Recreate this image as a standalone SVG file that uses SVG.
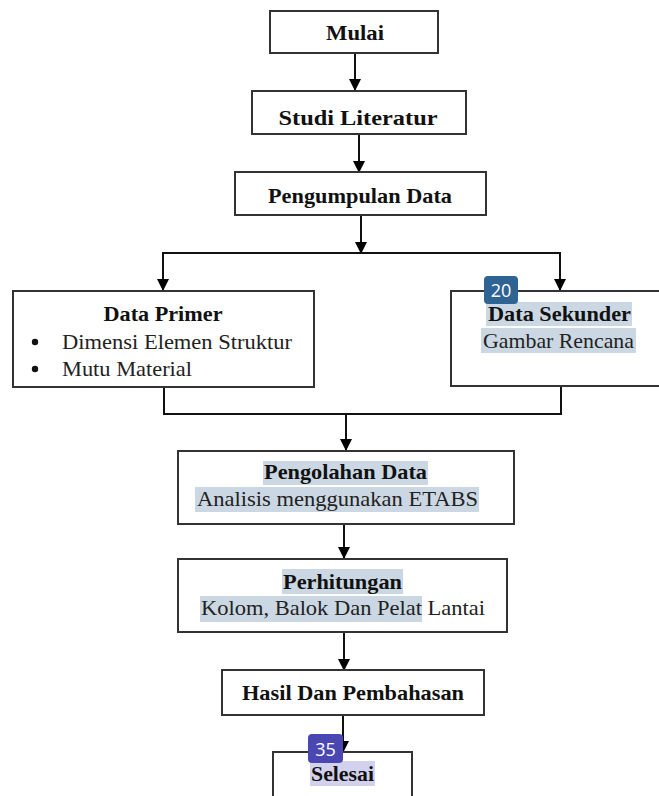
<svg xmlns="http://www.w3.org/2000/svg" width="659" height="796" viewBox="0 0 659 796">
<defs>
<marker id="ah" markerWidth="12" markerHeight="12" viewBox="0 0 12 12" refX="11" refY="6" orient="auto" markerUnits="userSpaceOnUse">
<path d="M0,0 L12,6 L0,12 Z" fill="#000"/>
</marker>
<style>
.box{fill:#fff;stroke:#333;stroke-width:2}
.con{fill:none;stroke:#111;stroke-width:2}
.b{font-family:"Liberation Serif","Times New Roman",serif;font-weight:bold;font-size:21px;fill:#111;text-anchor:middle}
.r{font-family:"Liberation Serif","Times New Roman",serif;font-size:21px;fill:#222}
.hl{fill:#cbd8e3}
.hl2{fill:#d3d2ee}
.badge{font-family:"Open Sans","Noto Sans",sans-serif;font-size:18px;fill:#fff;text-anchor:middle}
</style>
</defs>
<rect width="659" height="796" fill="#fff"/>

<g id="connectors">
<line class="con" x1="355" y1="53" x2="355" y2="90" marker-end="url(#ah)"/>
<line class="con" x1="359" y1="134" x2="359" y2="172" marker-end="url(#ah)"/>
<line class="con" x1="361" y1="215" x2="361" y2="253" marker-end="url(#ah)"/>
<polyline class="con" points="163,290 163,253 560,253 560,290"/>
<line class="con" x1="163" y1="270" x2="163" y2="290" marker-end="url(#ah)"/>
<line class="con" x1="560" y1="270" x2="560" y2="290" marker-end="url(#ah)"/>
<polyline class="con" points="164,387 164,414 561,414 561,386"/>
<line class="con" x1="346" y1="414" x2="346" y2="450" marker-end="url(#ah)"/>
<line class="con" x1="344" y1="524" x2="344" y2="558" marker-end="url(#ah)"/>
<line class="con" x1="344" y1="632" x2="344" y2="670" marker-end="url(#ah)"/>
<line class="con" x1="343" y1="715" x2="343" y2="752" marker-end="url(#ah)"/>
</g>

<g id="mulai">
<rect class="box" x="270" y="11" width="168" height="42"/>
<text class="b" x="355" y="40" font-size="23" textLength="58" lengthAdjust="spacingAndGlyphs">Mulai</text>
</g>

<g id="studi">
<rect class="box" x="252" y="91" width="214" height="43"/>
<text class="b" x="358" y="125" font-size="24" textLength="159" lengthAdjust="spacingAndGlyphs">Studi Literatur</text>
</g>

<g id="pengumpulan">
<rect class="box" x="235" y="172" width="251" height="43"/>
<text class="b" x="360" y="203" font-size="22" textLength="184" lengthAdjust="spacingAndGlyphs">Pengumpulan Data</text>
</g>

<g id="primer">
<rect class="box" x="13" y="291" width="301" height="96"/>
<text class="b" x="163" y="321" textLength="119" lengthAdjust="spacingAndGlyphs">Data Primer</text>
<circle cx="35" cy="342" r="3.2" fill="#111"/>
<text class="r" x="62" y="349" textLength="230" lengthAdjust="spacingAndGlyphs">Dimensi Elemen Struktur</text>
<circle cx="35" cy="369" r="3.2" fill="#111"/>
<text class="r" x="62" y="376" textLength="130" lengthAdjust="spacingAndGlyphs">Mutu Material</text>
</g>

<g id="sekunder">
<rect class="box" x="451" y="291" width="220" height="95"/>
<rect class="hl" x="486" y="302" width="146" height="24"/>
<rect class="hl" x="481" y="328" width="155" height="25"/>
<text class="b" x="559.5" y="321" textLength="143" lengthAdjust="spacingAndGlyphs">Data Sekunder</text>
<text class="r" x="558.5" y="348" text-anchor="middle" textLength="151" lengthAdjust="spacingAndGlyphs">Gambar Rencana</text>
<rect x="484" y="276" width="34" height="28" rx="4" fill="#2f6393"/>
<text class="badge" x="501" y="297">20</text>
</g>

<g id="pengolahan">
<rect class="box" x="178" y="451" width="336" height="73"/>
<rect class="hl" x="263" y="461" width="165" height="24"/>
<rect class="hl" x="195" y="487" width="284" height="25"/>
<text class="b" x="345.5" y="479" textLength="163" lengthAdjust="spacingAndGlyphs">Pengolahan Data</text>
<text class="r" x="337.5" y="506" text-anchor="middle" textLength="281" lengthAdjust="spacingAndGlyphs">Analisis menggunakan ETABS</text>
</g>

<g id="perhitungan">
<rect class="box" x="178" y="559" width="329" height="73"/>
<rect class="hl" x="282" y="569" width="121" height="25"/>
<rect class="hl" x="200" y="596" width="222" height="26"/>
<text class="b" x="342.5" y="589" textLength="119" lengthAdjust="spacingAndGlyphs">Perhitungan</text>
<text class="r" x="343" y="615" text-anchor="middle" textLength="284" lengthAdjust="spacingAndGlyphs">Kolom, Balok Dan Pelat Lantai</text>
</g>

<g id="hasil">
<rect class="box" x="222" y="670" width="262" height="45"/>
<text class="b" x="353" y="700" textLength="222" lengthAdjust="spacingAndGlyphs">Hasil Dan Pembahasan</text>
</g>

<g id="selesai">
<rect class="box" x="273" y="752" width="139" height="50"/>
<rect class="hl2" x="310" y="761" width="65" height="25"/>
<text class="b" x="342.5" y="781" textLength="63" lengthAdjust="spacingAndGlyphs">Selesai</text>
<rect x="308" y="734" width="35" height="29" rx="4" fill="#4a47b2"/>
<text class="badge" x="325.5" y="756">35</text>
</g>
</svg>
